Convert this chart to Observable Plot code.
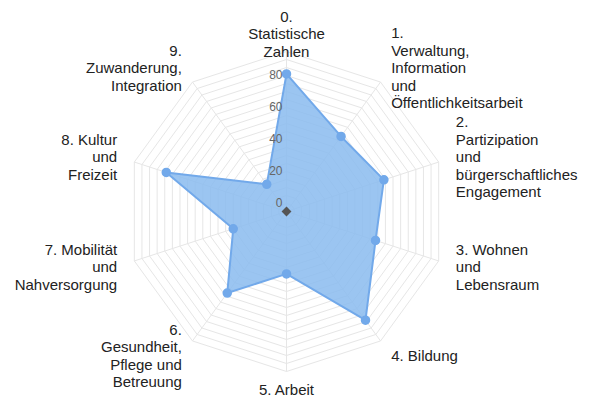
<!DOCTYPE html>
<html>
<head>
<meta charset="utf-8">
<script src="https://cdn.jsdelivr.net/npm/d3@7"></script>
<script src="https://cdn.jsdelivr.net/npm/@observablehq/plot@0.6"></script>
<style>
  html, body { margin: 0; padding: 0; background: #fff; }
</style>
</head>
<body>
<div id="chart"></div>
<script>
// ---- data ----
const categories = [
  "0.\nStatistische\nZahlen",
  "1.\nVerwaltung,\nInformation\nund\nÖffentlichkeitsarbeit",
  "2.\nPartizipation\nund\nbürgerschaftliches\nEngagement",
  "3. Wohnen\nund\nLebensraum",
  "4. Bildung",
  "5. Arbeit",
  "6.\nGesundheit,\nPflege und\nBetreuung",
  "7. Mobilität\nund\nNahversorgung",
  "8. Kultur\nund\nFreizeit",
  "9.\nZuwanderung,\nIntegration"
];
const values = [86, 58, 64, 58.5, 84, 39, 63, 35, 79, 21];
const tickValues = [0, 20, 40, 60, 80];
const gridMax = 100;
const gridStep = 5;

// ---- geometry helpers ----
const n = categories.length;
const ang = i => (i * 2 * Math.PI) / n; // clockwise from top
const px = (i, r) => r * Math.sin(ang(i));
const py = (i, r) => r * Math.cos(ang(i));

const levels = d3.range(gridStep, gridMax + 0.001, gridStep);
const rings = levels.flatMap(lv => d3.range(n + 1).map(k => ({lv, x: px(k % n, lv), y: py(k % n, lv)})));
const spokes = d3.range(n).map(i => ({x1: 0, y1: 0, x2: px(i, gridMax), y2: py(i, gridMax)}));
const series = d3.range(n + 1).map(k => ({x: px(k % n, values[k % n]), y: py(k % n, values[k % n])}));
const pts = values.map((v, i) => ({x: px(i, v), y: py(i, v)}));
const labelR = gridMax * 1.1125;
const labels = categories.map((c, i) => {
  const s = Math.sin(ang(i));
  return {text: c, x: px(i, labelR), y: py(i, labelR),
          anchor: Math.abs(s) < 1e-6 ? "middle" : (s > 0 ? "start" : "end")};
});
const ticks = tickValues.map(t => ({t, x: 0, y: t}));

const S = 1.6; // px per unit
const W = 599, H = 399, cx = 286, cy = 211;

const labelMark = a => Plot.text(labels.filter(d => d.anchor === a), {
  x: "x", y: "y", text: "text", textAnchor: a, lineAnchor: "middle",
  fontSize: 15, lineHeight: 1.17, fill: "#222"
});

const chart = Plot.plot({
  width: W,
  height: H,
  margin: 0,
  x: {domain: [-cx / S, (W - cx) / S], axis: null},
  y: {domain: [-(H - cy) / S, cy / S], axis: null},
  style: {fontFamily: "'Liberation Sans', Arial, Helvetica, sans-serif", background: "#fff"},
  marks: [
    Plot.line(rings, {x: "x", y: "y", z: "lv", stroke: "#e6e6e6", strokeWidth: 1}),
    Plot.link(spokes, {x1: "x1", y1: "y1", x2: "x2", y2: "y2", stroke: "#e6e6e6", strokeWidth: 1}),
    Plot.line(series, {x: "x", y: "y", fill: "#8abbef", fillOpacity: 0.85, stroke: "#72a9ea", strokeWidth: 2, curve: "linear"}),
    Plot.dot(pts, {x: "x", y: "y", r: 4, fill: "#72a9ea", stroke: "#72a9ea"}),
    Plot.dot([{x: 0, y: 0}], {x: "x", y: "y", symbol: "diamond2", r: 3.5, fill: "#555", stroke: "#555"}),
    Plot.text(ticks, {x: "x", y: "y", text: d => String(d.t), textAnchor: "end", dx: -4, dy: -8, fontSize: 12, fill: "#666"}),
    labelMark("start"),
    labelMark("middle"),
    labelMark("end")
  ]
});
document.getElementById("chart").append(chart);
</script>
</body>
</html>
